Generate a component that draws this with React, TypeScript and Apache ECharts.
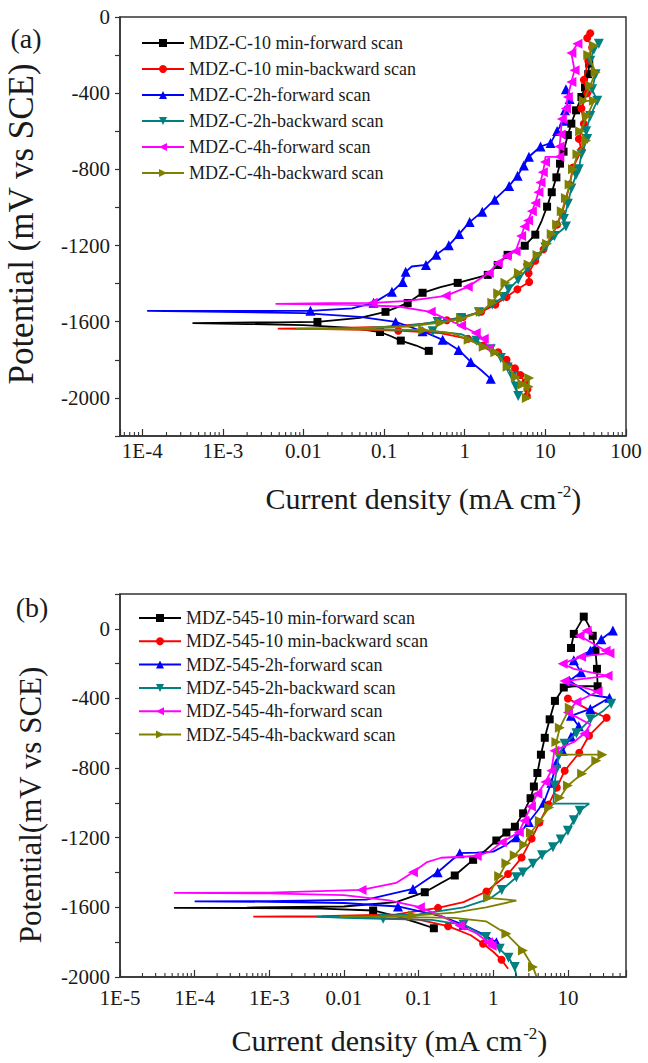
import React, { useEffect, useRef } from 'react';
import * as echarts from 'echarts';

const FONT = "'Liberation Serif', serif";
const AXIS_COLOR = '#333333';
const TEXT_COLOR = '#1a1a1a';

// ---------- series styling ----------
const colors = ['#000000', '#FF0000', '#0000FF', '#008080', '#FF00FF', '#808000'];
const symbols = ['rect', 'circle', 'triangle', 'triangle', 'triangle', 'triangle'];
const rotates = [0, 0, 0, 180, 90, -90];
const symbolSizes = [8, 8, 10, 10, 10, 10];

// ---------- panel (a) ----------
const namesA = [
  'MDZ-C-10 min-forward scan',
  'MDZ-C-10 min-backward scan',
  'MDZ-C-2h-forward scan',
  'MDZ-C-2h-backward scan',
  'MDZ-C-4h-forward scan',
  'MDZ-C-4h-backward scan',
];
const xTickValuesA = [1e-4, 1e-3, 0.01, 0.1, 1, 10, 100];
const xTickTextA = ['1E-4', '1E-3', '0.01', '0.1', '1', '10', '100'];
const yTickValuesA = [0, -400, -800, -1200, -1600, -2000];

// [current density, potential, marker]
const blackA = [
  [0.358, -1753, 1], [0.25, -1725, 0], [0.161, -1699, 1], [0.12, -1675, 0], [0.089, -1654, 1],
  [0.04, -1632, 0], [0.01, -1618, 0], [0.002, -1612, 0], [4.2e-4, -1607, 0], [0.005, -1603, 0],
  [0.0149, -1601, 1], [0.05, -1580, 0], [0.104, -1548, 1], [0.196, -1502, 1], [0.3, -1448, 1],
  [0.5, -1418, 0], [0.818, -1396, 1], [1.93, -1354, 1], [2.57, -1302, 1], [3.4, -1249, 1],
  [5.55, -1201, 1], [7.5, -1143, 1], [9, -1070, 0], [10.5, -996, 1], [12, -920, 1], [13.7, -842, 1],
  [15.2, -770, 1], [16.8, -707, 1], [19, -620, 1], [21, -560, 1], [24, -490, 1], [28, -420, 1],
  [31, -370, 1], [34, -300, 1], [35, -245, 1],
];
const redA = [
  [36, -85, 1], [33, -110, 1], [38, -160, 1], [34, -230, 1], [30, -330, 1], [33, -400, 1],
  [28, -480, 1], [30, -560, 1], [26, -640, 1], [28, -700, 1], [22, -790, 1], [20, -880, 1],
  [18, -960, 1], [16, -1030, 1], [14, -1090, 1], [12, -1150, 1], [9.5, -1220, 1], [7.5, -1280, 1],
  [6.2, -1345, 1], [6.3, -1391, 1], [4.5, -1430, 1], [3.3, -1470, 1], [2.4, -1510, 1],
  [1.6, -1548, 1], [0.95, -1575, 1], [0.6, -1592, 1], [0.3, -1612, 0], [0.1, -1627, 0],
  [0.02, -1634, 0], [4.8e-3, -1636, 0], [0.03, -1640, 0], [0.15, -1647, 1], [0.5, -1660, 0],
  [1.1, -1690, 1], [1.7, -1725, 1], [2.6, -1760, 1], [3.3, -1800, 1], [4.2, -1845, 1],
  [4.9, -1880, 1], [5.6, -1920, 1], [6.0, -1955, 1], [5.9, -1990, 1],
];
const blueA = [
  [2.1, -1900, 1], [1.6, -1855, 0], [1.19, -1811, 1], [0.84, -1748, 1], [0.533, -1695, 1],
  [0.3, -1650, 1], [0.139, -1601, 1], [0.05, -1575, 0], [0.01, -1555, 0], [1e-3, -1548, 0],
  [1.15e-4, -1543, 0], [0.002, -1543, 0], [0.0122, -1543, 1], [0.04, -1530, 0], [0.074, -1501, 1],
  [0.125, -1443, 1], [0.17, -1391, 1], [0.185, -1338, 1], [0.22, -1310, 0], [0.33, -1302, 1],
  [0.444, -1248, 1], [0.634, -1199, 1], [0.85, -1140, 1], [1.15, -1077, 1], [1.65, -1022, 1],
  [2.35, -959, 1], [3.55, -887, 1], [4.53, -833, 1], [5.4, -780, 1], [6.25, -734, 1],
  [8.72, -680, 1], [11.6, -662, 1], [14, -599, 1], [16.9, -545, 1], [17.5, -490, 1],
  [20, -430, 1], [18, -380, 1],
];
const tealA = [
  [46, -140, 1], [40, -170, 1], [36, -230, 1], [42, -300, 1], [38, -380, 1], [44, -440, 1],
  [36, -520, 1], [32, -600, 1], [33, -640, 1], [28, -720, 1], [26, -800, 1], [24, -830, 1],
  [21, -900, 1], [19, -980, 1], [17, -1060, 1], [18, -1100, 1], [13, -1150, 1], [10, -1210, 1],
  [8, -1260, 1], [6, -1320, 1], [4.6, -1380, 1], [3.5, -1430, 1], [3, -1470, 1], [2.2, -1510, 1],
  [1.5, -1550, 1], [0.9, -1580, 1], [0.46, -1601, 1], [0.2, -1620, 0], [0.06, -1632, 0],
  [0.03, -1636, 0], [0.1, -1640, 0], [0.4, -1650, 1], [0.9, -1665, 0], [1.4, -1700, 1],
  [2.1, -1745, 1], [2.8, -1790, 1], [3.4, -1840, 1], [3.9, -1890, 1], [4.3, -1940, 1],
  [4.6, -1990, 1],
];
const pinkA = [
  [2.0, -1740, 1], [1.72, -1690, 1], [1.37, -1659, 1], [0.9, -1620, 1], [0.55, -1580, 0],
  [0.378, -1548, 1], [0.15, -1520, 0], [0.03, -1510, 0], [4.5e-3, -1506, 0], [0.02, -1503, 0],
  [0.072, -1501, 1], [0.2, -1490, 0], [0.58, -1464, 1], [1.09, -1417, 1], [1.99, -1344, 1],
  [2.57, -1291, 1], [3.3, -1255, 1], [4.27, -1230, 1], [5.0, -1150, 1], [5.5, -1100, 1],
  [6.1, -1068, 1], [6.8, -1020, 1], [7.5, -977, 1], [8.2, -920, 1], [8.7, -869, 1],
  [9.3, -815, 1], [9.9, -761, 1], [10, -734, 0], [14.9, -734, 1], [15, -680, 1],
  [15.5, -617, 1], [16, -536, 1], [18, -480, 1], [19, -420, 1], [21, -341, 1], [23, -280, 1],
  [21, -189, 1], [25, -140, 1],
];
const oliveA = [
  [40, -150, 1], [34, -200, 1], [42, -290, 1], [36, -360, 1], [30, -440, 1], [40, -440, 1],
  [33, -520, 1], [27, -600, 1], [32, -650, 1], [25, -720, 1], [22, -800, 1], [20, -880, 1],
  [18, -950, 1], [16, -1020, 1], [14, -1090, 1], [12, -1140, 1], [10.5, -1190, 1], [8, -1250, 1],
  [6.2, -1300, 1], [4.7, -1344, 1], [3.2, -1396, 1], [2.6, -1450, 1], [2.2, -1500, 1],
  [1.58, -1548, 1], [0.9, -1585, 1], [0.5, -1605, 1], [0.2, -1625, 0], [0.04, -1635, 0],
  [0.008, -1638, 0], [0.05, -1640, 0], [0.305, -1643, 1], [0.7, -1660, 0], [1.12, -1695, 1],
  [1.72, -1732, 1], [2.4, -1760, 1], [3.4, -1837, 1], [4.3, -1890, 1], [5.2, -1930, 1],
  [6.3, -1895, 1], [6.2, -1942, 1], [5.9, -2000, 1],
];

// ---------- panel (b) ----------
const namesB = [
  'MDZ-545-10 min-forward scan',
  'MDZ-545-10 min-backward scan',
  'MDZ-545-2h-forward scan',
  'MDZ-545-2h-backward scan',
  'MDZ-545-4h-forward scan',
  'MDZ-545-4h-backward scan',
];
const xTickValuesB = [1e-5, 1e-4, 1e-3, 0.01, 0.1, 1, 10];
const xTickTextB = ['1E-5', '1E-4', '1E-3', '0.01', '0.1', '1', '10'];
const yTickValuesB = [0, -400, -800, -1200, -1600, -2000];

const blackB = [
  [0.16, -1720, 1], [0.1, -1690, 0], [0.05, -1650, 0], [0.0246, -1618, 1], [0.005, -1607, 0],
  [5e-4, -1604, 0], [5.3e-5, -1603, 0], [5e-4, -1601, 0], [0.01, -1595, 0], [0.05, -1570, 0],
  [0.121, -1513, 1], [0.2, -1460, 0], [0.305, -1417, 1], [0.537, -1327, 1], [0.8, -1270, 0],
  [1.1, -1216, 1], [1.5, -1170, 1], [1.95, -1137, 1], [2.51, -1060, 1], [3.16, -973, 1],
  [3.5, -906, 1], [3.9, -828, 1], [4.35, -723, 1], [4.9, -626, 1], [5.7, -520, 1],
  [6.7, -414, 1], [8.8, -337, 1], [12, -330, 0], [25, -330, 1], [24.5, -230, 1],
  [23.4, -126, 1], [21.5, -40, 1], [19, 20, 0], [16.3, 70, 1], [14, 20, 0], [12, -29, 1],
  [11, -110, 1],
];
const redB = [
  [10, -400, 1], [20, -470, 0], [33, -511, 1], [19.2, -614, 1], [14.2, -712, 1], [9.06, -815, 1],
  [7.1, -912, 1], [5.5, -1010, 1], [4.15, -1113, 1], [3.27, -1205, 1], [2.4, -1314, 1],
  [1.58, -1408, 1], [0.81, -1509, 1], [0.4, -1570, 0], [0.182, -1603, 1], [0.05, -1640, 0],
  [0.005, -1650, 0], [6.1e-4, -1653, 0], [0.01, -1655, 0], [0.1, -1670, 0], [0.248, -1708, 1],
  [0.5, -1760, 0], [0.73, -1809, 1], [1.0, -1855, 0], [1.29, -1901, 1], [1.58, -1953, 0],
];
const blueB = [
  [1.1, -1800, 1], [0.7, -1750, 0], [0.4, -1700, 1], [0.2, -1650, 0], [0.053, -1595, 1],
  [0.01, -1575, 0], [1e-3, -1568, 0], [1e-4, -1566, 0], [1e-3, -1564, 0], [0.02, -1555, 0],
  [0.084, -1494, 1], [0.18, -1398, 1], [0.356, -1289, 1], [0.6, -1285, 0], [1.0, -1280, 0],
  [1.5, -1240, 0], [2.04, -1197, 1], [3.0, -1110, 1], [4.74, -999, 1], [6, -884, 1],
  [7, -770, 1], [8.5, -700, 1], [11, -620, 1], [14, -560, 1], [11, -500, 1], [20, -460, 1],
  [36, -396, 1], [20, -380, 0], [10.5, -298, 1], [15, -250, 1], [12, -180, 1], [20, -126, 1],
  [28, -60, 1], [40, -10, 1],
];
const tealB = [
  [38, -430, 1], [30, -470, 0], [20, -520, 1], [13, -600, 1], [9, -660, 1], [7.5, -730, 1],
  [7, -810, 1], [6.6, -900, 1], [6.4, -1004, 0], [19.3, -1004, 0], [14.4, -1045, 1],
  [12, -1100, 1], [10, -1160, 1], [8, -1210, 1], [6.3, -1255, 1], [4.5, -1300, 1],
  [3.4, -1350, 1], [2.5, -1400, 1], [2.04, -1427, 1], [1.3, -1500, 1], [0.9, -1550, 0],
  [0.4, -1600, 0], [0.1, -1640, 0], [0.02, -1650, 0], [4.3e-3, -1653, 0], [0.01, -1660, 0],
  [0.0335, -1666, 1], [0.15, -1672, 0], [0.4, -1700, 1], [0.8, -1770, 1], [1.22, -1838, 1],
  [1.6, -1890, 1], [1.94, -1943, 1], [2.05, -2000, 0],
];
const pinkB = [
  [0.95, -1820, 1], [0.85, -1800, 1], [0.6, -1750, 0], [0.356, -1704, 1], [0.2, -1650, 0],
  [0.104, -1599, 1], [0.04, -1560, 0], [0.01, -1530, 0], [1e-3, -1520, 0], [5.3e-5, -1517, 0],
  [1e-3, -1515, 0], [0.0172, -1500, 1], [0.05, -1460, 0], [0.084, -1398, 1], [0.13, -1340, 0],
  [0.2, -1315, 0], [0.6, -1305, 1], [0.9, -1280, 0], [1.3, -1226, 1], [2.2, -1169, 1],
  [2.6, -1102, 1], [3.2, -1020, 1], [3.9, -947, 1], [5, -880, 1], [6, -815, 1], [6.6, -700, 1],
  [12, -650, 0], [16.5, -603, 1], [20, -550, 0], [10, -480, 1], [13, -420, 1], [25, -360, 1],
  [12, -320, 0], [9, -300, 1], [34, -270, 1], [12, -230, 0], [8.5, -200, 1], [15, -160, 1],
  [36, -140, 1], [32, -126, 1], [14.3, -40, 1], [17.8, -11, 1], [22, -30, 0],
];
const oliveB = [
  [10.6, -453, 1], [7.8, -568, 1], [7, -650, 1], [7, -723, 0], [29, -723, 1], [24, -758, 1],
  [15.5, -832, 1], [10, -900, 1], [7.8, -970, 1], [5.6, -1027, 1], [4.2, -1102, 1],
  [3.2, -1170, 1], [2.6, -1240, 1], [1.94, -1300, 1], [1.5, -1346, 1], [1.2, -1420, 1],
  [1.0, -1480, 0], [0.85, -1545, 1], [2.04, -1561, 0], [0.8, -1600, 0], [0.3, -1630, 0],
  [0.084, -1647, 1], [0.03, -1652, 0], [8.8e-3, -1653, 0], [0.05, -1655, 0], [0.3, -1660, 0],
  [0.8, -1680, 0], [1.5, -1752, 1], [2.5, -1848, 1], [3.41, -1943, 1], [3.78, -1995, 0],
];

const seriesA = [blackA, redA, blueA, tealA, pinkA, oliveA];
const seriesB = [blackB, redB, blueB, tealB, pinkB, oliveB];

// minor log ticks (2..9 in every decade) inside the axis range
function minorTicks(lo: number, hi: number): number[] {
  const out: number[] = [];
  for (let e = -6; e <= 3; e++) {
    for (let k = 2; k <= 9; k++) {
      const v = k * Math.pow(10, e);
      if (v > lo && v < hi) out.push(v);
    }
  }
  return out;
}

function xAxisCfg(gi: number, min: number, max: number, vals: number[], texts: string[], margin: number) {
  return {
    type: 'log',
    logBase: 10,
    gridIndex: gi,
    min,
    max,
    axisLine: { show: true, onZero: false, lineStyle: { color: AXIS_COLOR, width: 1.5 } },
    axisTick: { show: true, inside: true, length: 7, lineStyle: { color: AXIS_COLOR, width: 1.2 } },
    axisLabel: {
      margin,
      fontFamily: FONT,
      fontSize: 21,
      color: TEXT_COLOR,
      showMinLabel: true,
      showMaxLabel: true,
      formatter: (v: number) => {
        for (let i = 0; i < vals.length; i++) {
          if (Math.abs(Math.log10(v) - Math.log10(vals[i])) < 1e-6) return texts[i];
        }
        return '';
      },
    },
    splitLine: { show: false },
  };
}

function yAxisCfg(gi: number, min: number, max: number, vals: number[]) {
  return {
    type: 'value',
    gridIndex: gi,
    min,
    max,
    interval: 200,
    axisLine: { show: true, onZero: false, lineStyle: { color: AXIS_COLOR, width: 1.5 } },
    axisTick: { show: true, inside: false, length: 5, lineStyle: { color: AXIS_COLOR, width: 1.2 } },
    axisLabel: {
      margin: 10,
      fontFamily: FONT,
      fontSize: 21,
      color: TEXT_COLOR,
      formatter: (v: number) => (vals.indexOf(v) >= 0 ? String(v) : ''),
    },
    splitLine: { show: false },
  };
}

function lineSeries(name: string, data: number[][], i: number, gi: number) {
  return {
    type: 'line',
    name,
    xAxisIndex: gi,
    yAxisIndex: gi,
    data,
    symbol: symbols[i],
    symbolRotate: rotates[i],
    symbolSize: (v: number[]) => (v[2] ? symbolSizes[i] : 0),
    showSymbol: true,
    showAllSymbol: true,
    color: colors[i],
    lineStyle: { color: colors[i], width: 1.8 },
    itemStyle: { color: colors[i] },
    emphasis: { disabled: true },
    silent: true,
    z: 2 + i,
  };
}

function minorSeries(gi: number, vals: number[], yBottom: number) {
  return {
    type: 'custom',
    xAxisIndex: gi,
    yAxisIndex: gi,
    silent: true,
    z: 20,
    data: vals.map((v) => [v, yBottom]),
    renderItem: (_p: any, api: any) => {
      const pt = api.coord([api.value(0), api.value(1)]);
      return {
        type: 'line',
        shape: { x1: pt[0], y1: pt[1], x2: pt[0], y2: pt[1] - 4 },
        style: { stroke: AXIS_COLOR, lineWidth: 1.1 },
      };
    },
  };
}

function legendCfg(names: string[], left: number, top: number, gap: number) {
  return {
    data: names,
    orient: 'vertical',
    left,
    top,
    padding: 0,
    itemWidth: 42,
    itemHeight: 10,
    itemGap: gap,
    selectedMode: false,
    textStyle: { fontFamily: FONT, fontSize: 18, color: TEXT_COLOR },
  };
}

const xTitle = (x: number, y: number) => ({
  type: 'text',
  x,
  y,
  silent: true,
  style: {
    text: 'Current density (mA cm{sup|-2})',
    fontFamily: FONT,
    fontSize: 30,
    fill: TEXT_COLOR,
    align: 'center',
    verticalAlign: 'middle',
    rich: {
      sup: { fontFamily: FONT, fontSize: 17, fill: TEXT_COLOR, verticalAlign: 'top' },
    },
  },
});

export default function App() {
  const ref = useRef<HTMLDivElement>(null);
  useEffect(() => {
    if (!ref.current) return;
    const chart = echarts.init(ref.current, undefined, { renderer: 'svg' });
    const option: any = {
      animation: false,
      backgroundColor: '#ffffff',
      textStyle: { fontFamily: FONT },
      grid: [
        { left: 120, top: 17, width: 506, height: 419, show: true, borderColor: AXIS_COLOR, borderWidth: 1.5, backgroundColor: 'transparent' },
        { left: 120, top: 594, width: 506, height: 383, show: true, borderColor: AXIS_COLOR, borderWidth: 1.5, backgroundColor: 'transparent' },
      ],
      xAxis: [
        xAxisCfg(0, 5.3e-5, 100, xTickValuesA, xTickTextA, 4),
        xAxisCfg(1, 1e-5, 60, xTickValuesB, xTickTextB, 10),
      ],
      yAxis: [yAxisCfg(0, -2200, 0, yTickValuesA), yAxisCfg(1, -2000, 200, yTickValuesB)],
      legend: [legendCfg(namesA, 141, 34, 8), legendCfg(namesB, 138, 609, 5.3)],
      series: [
        ...seriesA.map((d, i) => lineSeries(namesA[i], d, i, 0)),
        ...seriesB.map((d, i) => lineSeries(namesB[i], d, i, 1)),
        minorSeries(0, minorTicks(5.3e-5, 100), -2200),
        minorSeries(1, minorTicks(1e-5, 60), -2000),
      ],
      graphic: [
        { type: 'text', x: 26, y: 38, silent: true, style: { text: '(a)', fontFamily: FONT, fontSize: 28, fill: TEXT_COLOR, align: 'center', verticalAlign: 'middle' } },
        { type: 'text', x: 32, y: 607, silent: true, style: { text: '(b)', fontFamily: FONT, fontSize: 28, fill: TEXT_COLOR, align: 'center', verticalAlign: 'middle' } },
        { type: 'text', x: 21, y: 224, rotation: Math.PI / 2, silent: true, style: { text: 'Potential (mV vs SCE)', fontFamily: FONT, fontSize: 35, fill: TEXT_COLOR, align: 'center', verticalAlign: 'middle' } },
        { type: 'text', x: 30, y: 805, rotation: Math.PI / 2, silent: true, style: { text: 'Potential(mV vs SCE)', fontFamily: FONT, fontSize: 31, fill: TEXT_COLOR, align: 'center', verticalAlign: 'middle' } },
        xTitle(423, 498),
        xTitle(389, 1040),
      ],
    };
    chart.setOption(option);
    return () => chart.dispose();
  }, []);
  return <div ref={ref} style={{ position: 'absolute', left: 0, top: 0, width: 648, height: 1063, background: '#fff' }} />;
}
